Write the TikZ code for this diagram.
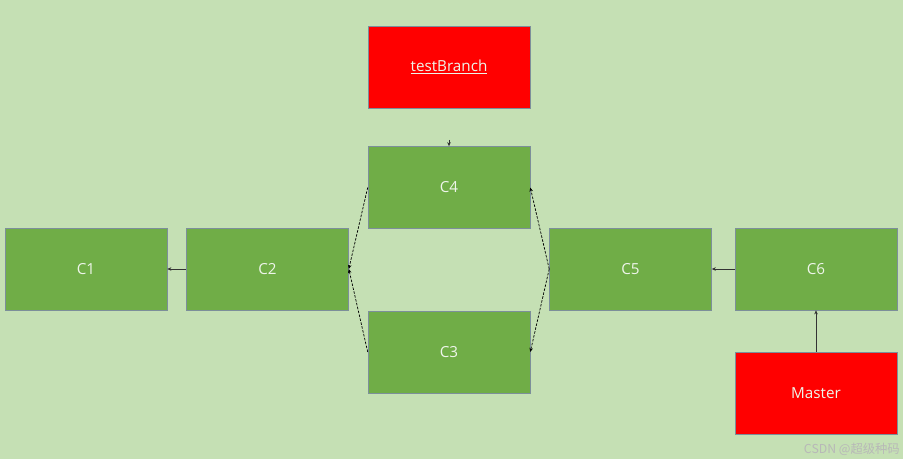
\documentclass[tikz,border=0pt]{standalone}
\usepackage{fontspec}
\setmainfont{Open Sans}
\newfontfamily\cjk{Noto Sans CJK SC}
\usetikzlibrary{arrows.meta}
\definecolor{bgc}{HTML}{C5E0B4}
\definecolor{boxg}{HTML}{70AD47}
\definecolor{boxr}{HTML}{FF0000}
\definecolor{edgec}{HTML}{7C8F9A}
\definecolor{txt}{HTML}{EEF5EA}
\tikzset{
  x=0.03cm, y=-0.03cm,
  commit/.style={draw=edgec, line width=0.5pt, fill=boxg, minimum width=4.86cm, minimum height=2.46cm, inner sep=0pt, text=txt, font=\fontsize{13}{15}\selectfont},
  branchbox/.style={commit, fill=boxr},
  link/.style={draw=black!80, line width=0.5pt, -{Stealth[length=3.5pt,width=3pt]}},
  dlink/.style={link, draw=black, line width=0.6pt, dash pattern=on 2.2pt off 1.2pt}
}
\begin{document}
\begin{tikzpicture}
\fill[bgc] (0,0) rectangle (903,459);
\useasboundingbox (0,0) rectangle (903,459);
\node[branchbox] (tb) at (449,67) {\underline{testBranch}};
\node[commit] (c4) at (449,187.5) {C4};
\node[commit] (c1) at (86,269) {C1};
\node[commit] (c2) at (267.5,269) {C2};
\node[commit] (c3) at (449,352) {C3};
\node[commit] (c5) at (630.5,269) {C5};
\node[commit] (c6) at (816,269) {C6};
\node[branchbox] (ms) at (816,393) {Master};
\coordinate (tbend) at (449,140);
\draw[link] (tbend) -- (c4.north);
\draw[link] (c2.west) -- (c1.east);
\draw[dlink] (c4.west) -- (c2.east);
\draw[dlink] (c3.west) -- (c2.east);
\draw[dlink] (c5.west) -- (c4.east);
\draw[dlink] (c5.west) -- (c3.east);
\draw[link] (c6.west) -- (c5.east);
\draw[link] (ms.north) -- (c6.south);
\node[anchor=east, text=black!28, font=\cjk\fontsize{10.5}{12}\selectfont, inner sep=0pt] (wm) at (900,449) {CSDN @超级种码};
\end{tikzpicture}
\end{document}
